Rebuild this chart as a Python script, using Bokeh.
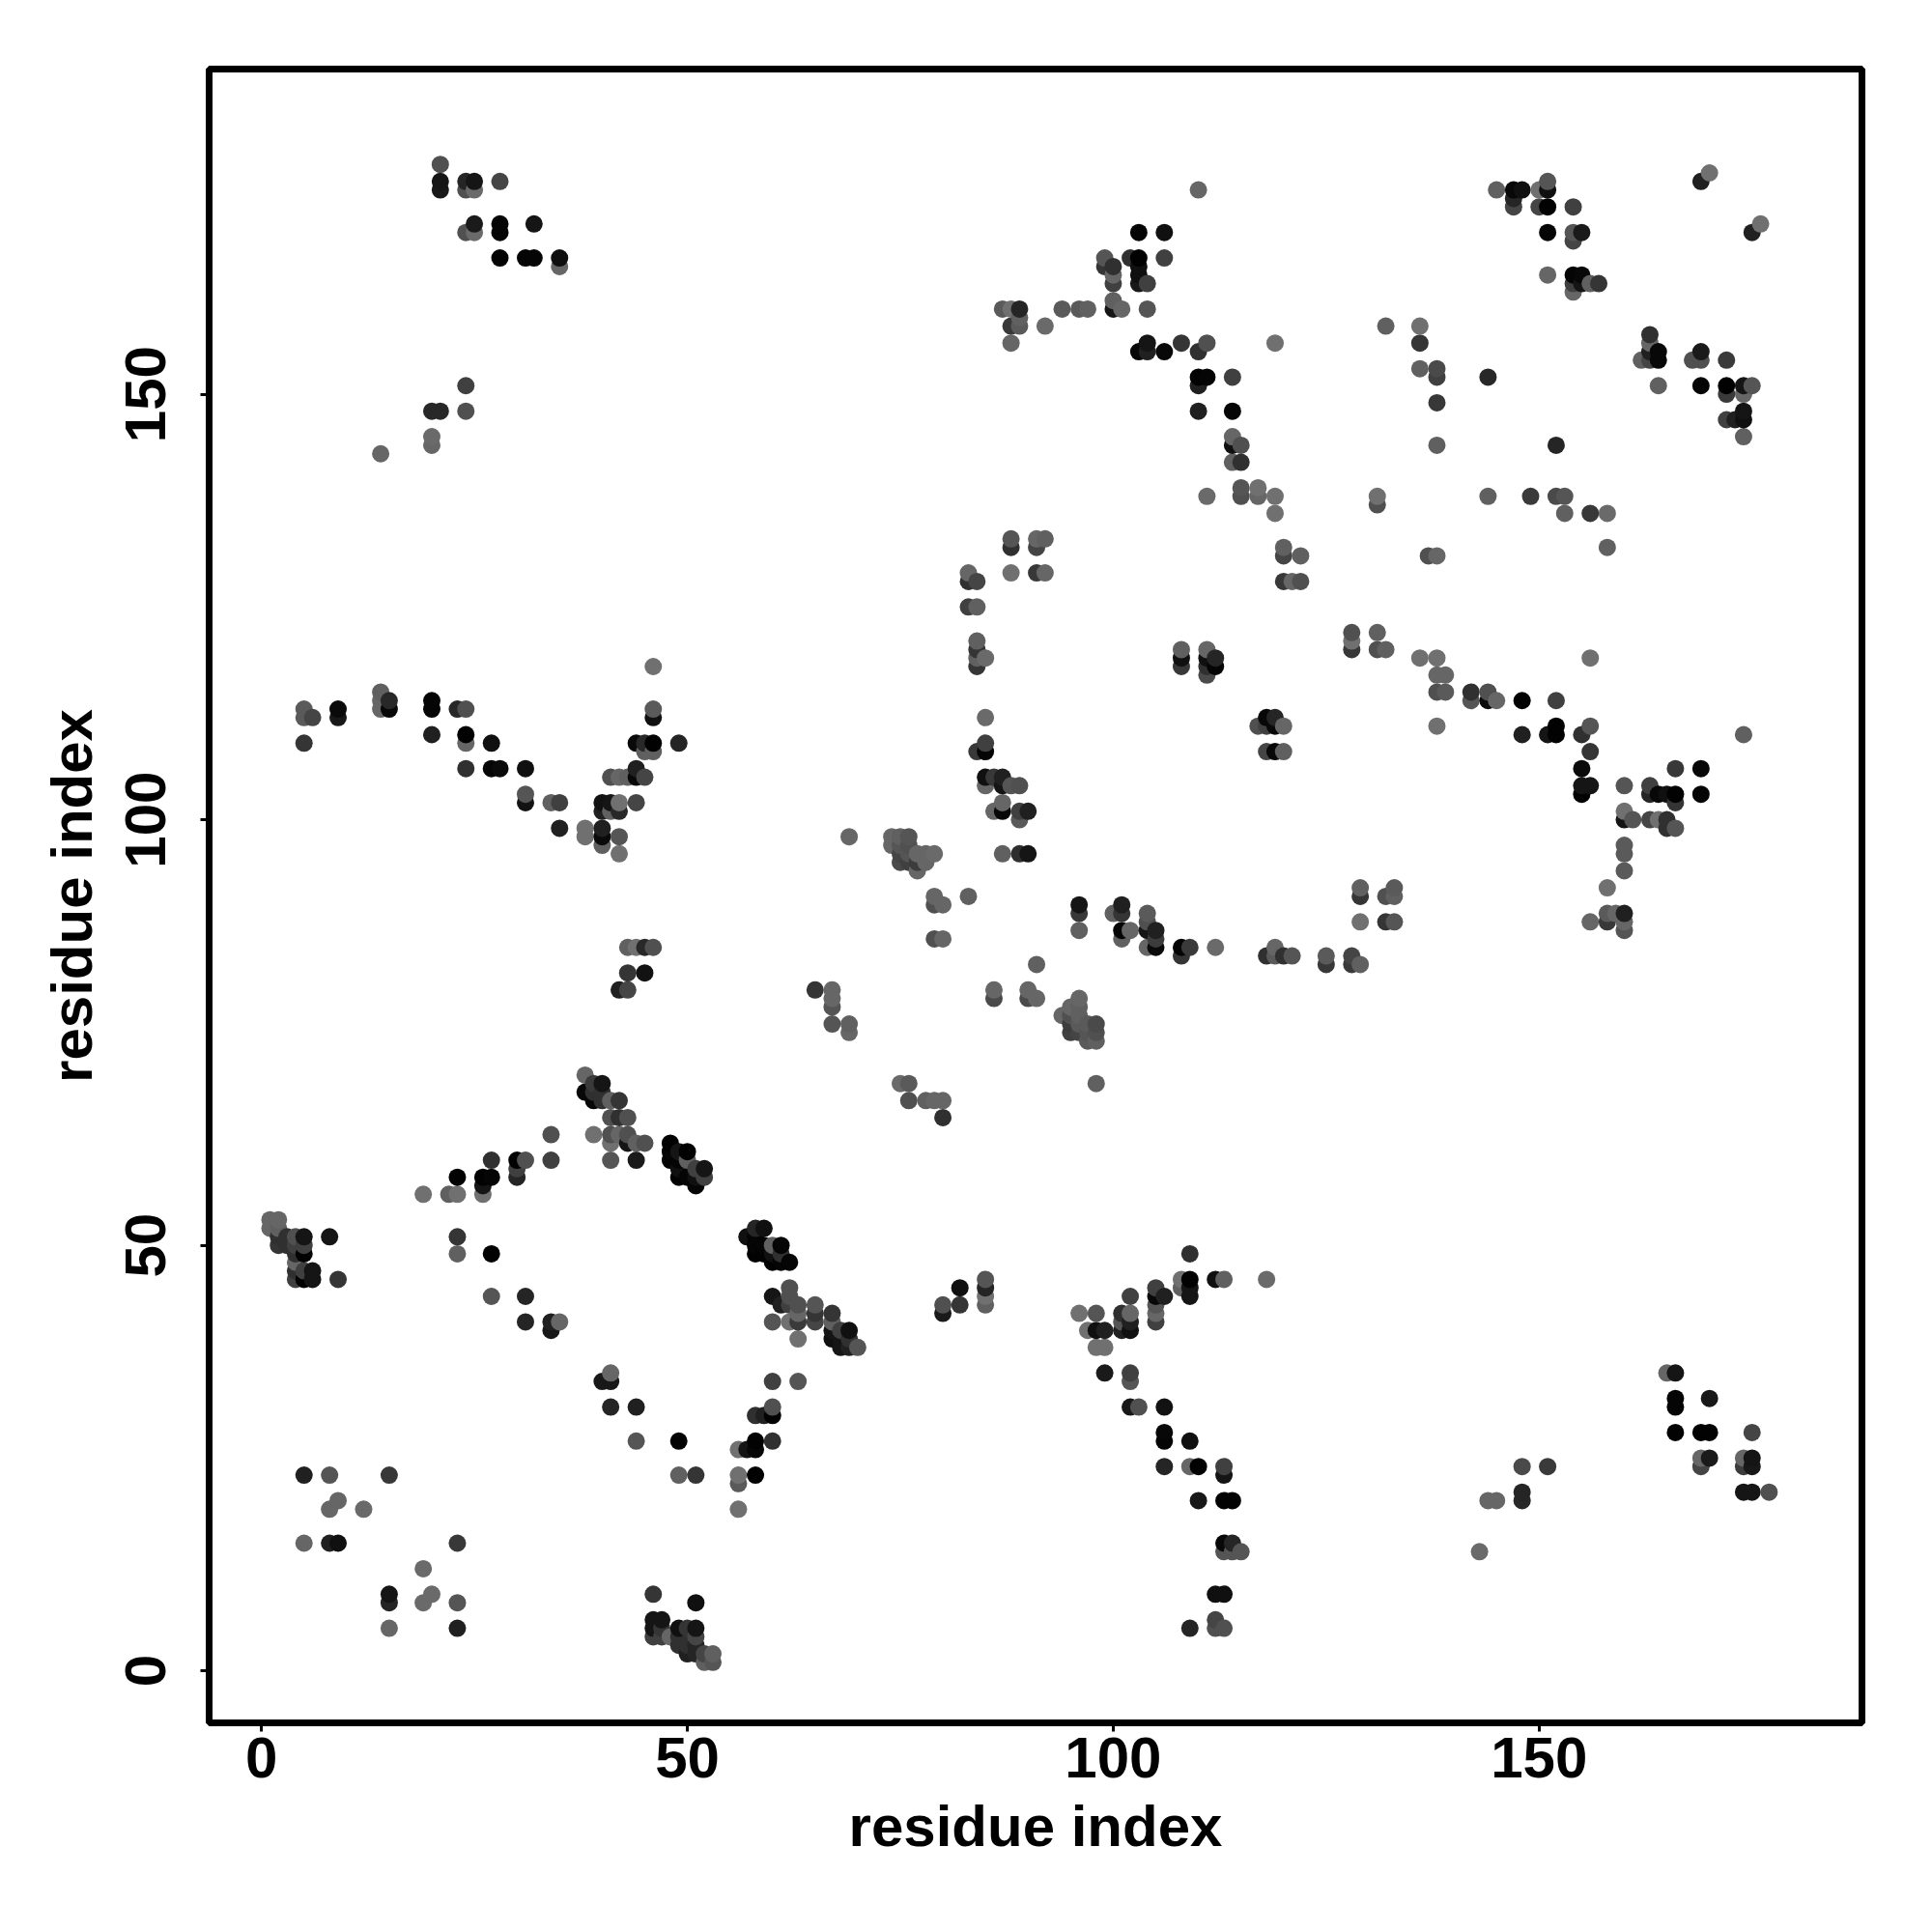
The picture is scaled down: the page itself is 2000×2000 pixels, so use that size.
from bokeh.plotting import figure
from bokeh.models import ColumnDataSource, Range1d, FixedTicker
from bokeh.embed import file_html
from bokeh.resources import INLINE

# (residue i, residue j, grey level of the dot)
lower_left = [
(1,53,0x66),(2,53,0x66),(1,52,0x66),(2,52,0x60),(2,51,0x30),(2,50,0x35),(3,51,0x30),(3,50,0x30),(4,51,0x50),(5,51,0x15),
(4,50,0x40),(5,50,0x40),(5,49,0x02),(4,49,0x30),(4,48,0x66),(4,47,0x30),(5,47,0x40),(6,47,0x15),(4,46,0x40),(5,46,0x02),
(6,46,0x15),(8,51,0x15),(9,46,0x35),(23,51,0x35),(23,49,0x60),(27,49,0x02),(27,44,0x55),(31,44,0x25),(31,41,0x25),
(34,41,0x20),(34,40,0x18),(35,41,0x66),(41,35,0x66),(40,34,0x18),(41,34,0x18),(41,31,0x25),(44,31,0x20),(44,27,0x55),
(49,27,0x02),(49,23,0x60),(51,23,0x35),(5,23,0x20),(8,23,0x55),(15,23,0x38),(9,20,0x66),(8,19,0x66),(12,19,0x6a),
(5,15,0x66),(8,15,0x20),(9,15,0x10),(23,15,0x38),(19,12,0x6a),(15,9,0x15),(15,8,0x25),(20,9,0x6a),(19,8,0x6a),(23,8,0x55),
(15,5,0x66),(23,5,0x20),
]
strand_mid = [
(38,70,0x66),(39,69,0x3a),(40,69,0x15),(38,68,0x08),(39,67,0x08),(40,67,0x30),(39,68,0x30),(40,68,0x30),(41,67,0x60),(42,67,0x35),
(41,65,0x50),(42,65,0x30),(43,65,0x50),(41,63,0x50),(39,63,0x70),(42,63,0x66),(43,63,0x50),(43,62,0x15),(41,62,0x70),(44,62,0x60),
(45,62,0x50),(41,60,0x55),(44,60,0x1a),(48,62,0x02),(48,61,0x05),(50,61,0x02),(48,60,0x05),(49,61,0x15),(49,60,0x05),(49,58,0x02),
(50,58,0x05),(50,60,0x60),(51,57,0x05),(51,59,0x40),(52,59,0x15),(52,58,0x40),(51,58,0x10),(49,59,0x10),
(23,58,0x02),(26,58,0x02),(27,58,0x05),(26,57,0x15),(26,56,0x70),(27,60,0x30),(30,60,0x02),(31,60,0x50),(30,59,0x40),(30,58,0x25),
(34,63,0x50),(34,60,0x40),(19,56,0x70),(22,56,0x60),(23,56,0x70),
]
strand_down = [
(57,51,0x10),(58,52,0x25),(59,52,0x10),(58,51,0x05),(58,50,0x05),(58,49,0x02),(59,49,0x02),(59,50,0x05),(60,50,0x60),(61,50,0x05),
(61,49,0x30),(60,48,0x02),(61,48,0x05),(62,48,0x05),(60,49,0x10),
(60,44,0x15),(62,45,0x50),(62,44,0x50),(61,43,0x20),(62,43,0x40),(63,43,0x50),(65,43,0x55),(63,42,0x66),(65,42,0x35),(67,42,0x35),
(60,41,0x55),(62,41,0x70),(63,41,0x3a),(65,41,0x45),(63,39,0x70),(67,41,0x60),(67,40,0x15),(68,40,0x40),(69,40,0x10),(67,39,0x10),
(68,39,0x15),(69,39,0x30),(68,38,0x15),(69,38,0x20),(70,38,0x55),(60,34,0x40),(63,34,0x55),(60,31,0x50),(60,30,0x02),(58,30,0x30),
(59,30,0x20),(58,27,0x02),(60,27,0x30),(58,26,0x08),(57,26,0x15),(56,26,0x70),(56,23,0x70),(56,22,0x5a),(58,23,0x02),(56,19,0x70),
(46,9,0x35),(51,8,0x10),(46,6,0x15),(47,6,0x15),(46,5,0x15),(46,4,0x40),(47,5,0x35),(47,4,0x40),(48,4,0x66),(49,5,0x10),(50,5,0x35),
(51,5,0x15),(51,4,0x45),(49,4,0x30),(49,3,0x30),(50,3,0x30),(51,3,0x25),(50,2,0x20),(51,2,0x25),(52,2,0x45),(53,2,0x60),(52,1,0x60),(53,1,0x55),
]
lower_mid = [
(82,45,0x10),(82,43,0x35),(80,43,0x50),(80,42,0x1a),(85,46,0x55),(85,45,0x25),(85,44,0x70),(85,43,0x60),
(96,42,0x70),(98,42,0x55),(97,40,0x70),(98,40,0x10),(99,40,0x20),(98,38,0x70),(99,38,0x70),
(101,42,0x30),(102,44,0x40),(102,42,0x66),(101,41,0x55),(102,41,0x20),(102,40,0x10),(101,40,0x20),(105,45,0x40),(105,44,0x08),
(106,44,0x20),(105,43,0x55),(105,42,0x66),(105,41,0x40),(108,46,0x70),(108,45,0x60),(109,46,0x02),(109,45,0x15),(109,44,0x15),
(109,49,0x30),(112,46,0x10),(113,46,0x60),(118,46,0x6a),
(99,35,0x1a),(102,35,0x40),(102,34,0x55),(102,31,0x18),(103,31,0x50),(106,31,0x12),(106,28,0x08),(106,27,0x05),(109,27,0x10),
(106,24,0x25),(109,24,0x66),(110,24,0x02),(113,24,0x40),(113,23,0x15),(110,20,0x18),(113,20,0x02),(114,20,0x02),
(113,15,0x08),(114,15,0x25),(113,14,0x55),(114,14,0x55),(115,14,0x55),(112,9,0x10),(113,9,0x10),(112,6,0x45),(109,5,0x25),(112,5,0x50),(113,5,0x50),
]
lower_right = [
(165,35,0x66),(166,35,0x15),(166,32,0x05),(166,31,0x05),(170,32,0x18),(166,28,0x02),(169,28,0x02),(170,28,0x02),(175,28,0x45),
(169,25,0x66),(170,25,0x1a),(169,24,0x45),(174,25,0x66),(175,25,0x15),(174,24,0x3c),(175,24,0x18),(174,21,0x15),(175,21,0x15),(177,21,0x50),
(148,24,0x4a),(151,24,0x3a),(148,21,0x25),(148,20,0x28),(144,20,0x66),(145,20,0x66),(143,14,0x6a),
]
upper_left_band = [
(5,113,0x5a),(5,112,0x5a),(6,112,0x45),(9,113,0x0a),(9,112,0x18),(5,109,0x35),(14,115,0x60),(14,114,0x66),(14,113,0x66),(15,114,0x28),
(15,113,0x08),(20,114,0x05),(20,113,0x05),(20,110,0x20),(23,113,0x28),(24,113,0x50),(24,110,0x02),(24,109,0x66),(27,109,0x10),
(24,106,0x30),(27,106,0x05),(28,106,0x0a),(31,106,0x10),(31,103,0x55),(31,102,0x12),(34,102,0x60),(35,102,0x40),(35,99,0x20),
(38,99,0x70),(38,98,0x70),(40,102,0x12),(41,102,0x15),(42,102,0x70),(44,102,0x45),(40,101,0x20),(41,101,0x60),(42,101,0x28),
(40,99,0x20),(40,98,0x0a),(40,97,0x60),(42,98,0x55),(42,96,0x70),(41,105,0x50),(42,105,0x66),(43,105,0x60),(44,106,0x20),(44,105,0x08),
(45,105,0x45),(44,109,0x0a),(45,109,0x28),(46,109,0x02),(49,109,0x25),(45,108,0x60),(46,108,0x60),(46,118,0x70),(46,113,0x5a),(46,112,0x10),
(43,85,0x60),(44,85,0x70),(45,85,0x28),(46,85,0x50),(43,82,0x35),(45,82,0x12),(42,80,0x20),(43,80,0x45),
]
top_left = [
(21,177,0x50),(21,175,0x15),(21,174,0x18),(24,175,0x25),(24,174,0x50),(25,175,0x15),(25,174,0x6a),(28,175,0x45),(25,170,0x1a),(24,169,0x50),
(25,169,0x6a),(28,170,0x05),(28,169,0x05),(32,170,0x15),(28,166,0x03),(31,166,0x05),(32,166,0x05),(35,166,0x0f),(35,165,0x66),
(24,151,0x40),(20,148,0x28),(21,148,0x28),(24,148,0x50),(20,145,0x6a),(20,144,0x66),(14,143,0x66),
]
top_mid = [
(110,174,0x66),(103,169,0x05),(106,169,0x10),(99,166,0x55),(99,165,0x35),(102,166,0x30),(103,166,0x02),(106,166,0x40),(100,165,0x30),
(100,164,0x66),(100,163,0x40),(103,165,0x10),(103,164,0x10),(103,163,0x18),(104,163,0x40),(100,161,0x60),(100,160,0x15),(101,160,0x66),
(104,160,0x55),(87,160,0x5a),(88,160,0x70),(89,160,0x25),(89,159,0x60),(88,158,0x38),(89,158,0x5a),(88,156,0x66),(92,158,0x6a),
(94,160,0x5a),(96,160,0x5a),(97,160,0x60),(104,156,0x15),(103,155,0x08),(104,155,0x20),(106,155,0x08),(108,156,0x35),(110,155,0x30),
(111,156,0x50),(119,156,0x70),(110,152,0x02),(111,152,0x05),(110,151,0x20),(114,152,0x40),(110,148,0x20),(114,148,0x05),
(114,145,0x66),(114,144,0x10),(115,144,0x50),(114,142,0x60),(115,142,0x30),(111,138,0x6a),(115,139,0x55),(115,138,0x50),(117,139,0x70),
(117,138,0x66),(119,138,0x70),(119,136,0x70),(131,138,0x70),(131,137,0x50),(132,158,0x60),(136,158,0x70),(136,156,0x35),(136,153,0x60),
(138,153,0x4a),(138,152,0x40),(138,149,0x38),(138,144,0x60),
]
top_right = [
(145,174,0x60),(147,174,0x08),(148,174,0x10),(147,173,0x25),(147,172,0x45),(150,174,0x70),(151,175,0x55),(151,174,0x10),(150,172,0x45),
(151,172,0x02),(154,172,0x40),(151,169,0x05),(154,169,0x55),(155,169,0x1a),(154,168,0x45),(151,164,0x66),(154,164,0x05),(155,164,0x08),
(154,163,0x40),(155,163,0x15),(156,163,0x60),(157,163,0x35),(154,162,0x66),(169,175,0x20),(170,176,0x70),(175,169,0x20),(176,170,0x70),
(163,157,0x30),(163,156,0x66),(164,155,0x08),(163,155,0x20),(164,154,0x08),(162,154,0x60),(163,154,0x45),(164,151,0x60),(169,155,0x1a),
(168,154,0x50),(169,154,0x50),(172,154,0x3a),(169,151,0x05),(172,151,0x02),(174,151,0x15),(175,151,0x55),(172,150,0x3a),(174,150,0x66),
(172,147,0x40),(173,147,0x20),(174,148,0x15),(174,147,0x10),(174,145,0x60),(144,152,0x28),(152,144,0x25),(144,138,0x60),(149,138,0x3a),
(152,138,0x4a),(153,138,0x55),(153,136,0x60),(156,136,0x38),(158,136,0x6a),(158,132,0x60),
]
right_band = [
(128,122,0x50),(128,121,0x70),(128,120,0x38),(131,122,0x60),(131,120,0x50),(132,120,0x60),(136,119,0x70),(138,119,0x70),(138,117,0x66),
(139,117,0x66),(138,115,0x50),(139,115,0x5a),(142,115,0x30),(142,114,0x55),(144,115,0x50),(144,114,0x0a),(145,114,0x66),(148,114,0x02),
(152,114,0x40),(156,119,0x70),(138,111,0x70),(148,110,0x20),(151,110,0x15),(152,111,0x02),(152,110,0x02),(155,110,0x30),(156,111,0x55),
(156,108,0x35),(155,106,0x0a),(155,104,0x15),(156,104,0x15),(155,103,0x02),(160,104,0x55),(163,104,0x40),(163,103,0x25),(164,103,0x08),
(165,103,0x10),(166,103,0x02),(166,102,0x35),(166,106,0x38),(169,106,0x08),(169,103,0x05),(160,101,0x70),(160,100,0x15),(161,100,0x55),
(163,100,0x45),(164,100,0x70),(165,100,0x30),(165,99,0x30),(166,99,0x55),(160,97,0x5a),(160,96,0x5a),(160,94,0x5a),(158,92,0x70),
(156,88,0x66),(158,89,0x5a),(159,89,0x66),(160,89,0x20),(158,88,0x38),(160,88,0x66),(160,87,0x55),(174,110,0x60),
(129,92,0x60),(129,91,0x35),(129,88,0x70),(132,91,0x50),(133,92,0x5a),(133,91,0x60),(132,88,0x35),(133,88,0x55),
(118,84,0x30),(119,85,0x66),(119,84,0x5a),(120,84,0x30),(121,84,0x55),(125,84,0x5a),(125,83,0x38),(128,84,0x45),(128,83,0x3a),(129,83,0x60),
(118,112,0x08),(119,112,0x25),(118,111,0x40),(119,111,0x08),(120,111,0x66),(117,111,0x50),(118,108,0x45),(119,108,0x08),(120,108,0x60),
]
centre_band = [
(88,133,0x55),(88,132,0x30),(91,133,0x66),(92,133,0x60),(91,132,0x45),(88,129,0x70),(91,129,0x38),(92,129,0x66),(83,129,0x66),(84,128,0x45),
(83,128,0x30),(84,125,0x60),(83,125,0x40),(84,121,0x60),(84,120,0x35),(84,119,0x60),(84,118,0x35),(85,119,0x6a),(85,112,0x6a),(85,109,0x40),
(84,108,0x38),(85,108,0x05),(85,105,0x10),(85,104,0x66),(86,105,0x38),(87,105,0x20),(87,104,0x15),(88,104,0x55),(89,104,0x50),(87,102,0x66),
(86,101,0x66),(87,101,0x08),(89,101,0x40),(90,101,0x20),(89,100,0x5a),(87,96,0x60),(89,96,0x2e),(90,96,0x15),
(108,120,0x60),(108,119,0x10),(108,118,0x38),(111,120,0x66),(111,119,0x10),(112,119,0x25),(111,118,0x30),(112,118,0x05),(111,117,0x4a),
(120,132,0x60),(120,131,0x45),(122,131,0x60),(120,128,0x38),(121,128,0x66),(122,128,0x50),(137,131,0x50),(138,131,0x66),
]
centre_blob = [
(69,98,0x66),(74,98,0x66),(75,98,0x60),(76,98,0x55),(74,97,0x66),(75,97,0x55),(76,97,0x50),(75,96,0x45),(76,96,0x55),(77,96,0x66),(78,96,0x66),
(79,96,0x6a),(75,95,0x4a),(76,95,0x40),(77,95,0x3c),(78,95,0x66),(77,94,0x66),(79,91,0x66),(79,90,0x50),(80,90,0x66),(83,91,0x60),(79,86,0x50),
(80,86,0x66),(96,90,0x15),(96,89,0x38),(96,87,0x60),(100,89,0x60),(101,90,0x20),(101,89,0x35),(101,87,0x05),(102,87,0x66),(101,86,0x60),
(104,89,0x5a),(104,88,0x50),(104,87,0x15),(105,87,0x20),(105,86,0x3c),(104,85,0x66),(105,85,0x0a),(108,85,0x05),(109,85,0x3a),(108,84,0x35),
(112,85,0x6a),(91,83,0x60),(65,80,0x35),(67,80,0x66),(67,79,0x66),(67,78,0x55),(67,76,0x55),(69,76,0x60),(69,75,0x66),(86,80,0x66),(86,79,0x4a),
(90,80,0x66),(90,79,0x4a),(91,79,0x66),(96,79,0x66),(95,78,0x66),(96,78,0x60),(94,77,0x66),(95,77,0x50),(96,77,0x60),(95,76,0x3c),(96,76,0x5a),
(97,76,0x5a),(98,76,0x4a),(95,75,0x40),(96,75,0x45),(97,75,0x55),(98,75,0x50),(97,74,0x5a),(98,74,0x60),(98,69,0x60),(75,69,0x6a),(76,69,0x5a),
(76,67,0x50),(78,67,0x60),(79,67,0x66),(80,67,0x66),(80,65,0x30),
]
x_ticks = [0, 50, 100, 150]
y_ticks = [0, 50, 100, 150]
x_title = "residue index"
y_title = "residue index"

all_points = sorted(lower_left + strand_mid + strand_down + lower_mid + lower_right + upper_left_band
                    + top_left + top_mid + top_right + right_band + centre_band + centre_blob,
                    key=lambda t: (t[0], t[1]))
source = ColumnDataSource(dict(
    i=[t[0] for t in all_points],
    j=[t[1] for t in all_points],
    c=["#%02x%02x%02x" % (t[2], t[2], t[2]) for t in all_points],
))

W = 1992
p = figure(width=W, height=W, output_backend="svg", toolbar_location=None,
           x_range=Range1d(-6.14, 187.9), y_range=Range1d(-6.11, 188.2),
           min_border_left=216, min_border_right=W - 1927, min_border_top=71, min_border_bottom=W - 1783,
           background_fill_color="white", border_fill_color="white")
p.grid.visible = False
p.outline_line_color = "black"
p.outline_line_width = 7
p.scatter("i", "j", source=source, size=18, fill_color="c", line_color=None)

for ax, ticks, title in ((p.xaxis[0], x_ticks, x_title), (p.yaxis[0], y_ticks, y_title)):
    ax.ticker = FixedTicker(ticks=ticks)
    ax.axis_line_color = None
    ax.major_tick_line_color = "black"
    ax.major_tick_line_width = 3
    ax.major_tick_in = 0
    ax.major_tick_out = 9
    ax.minor_tick_line_color = None
    ax.major_label_text_font = "Liberation Sans"
    ax.major_label_text_font_style = "bold"
    ax.major_label_text_font_size = "60px"
    ax.major_label_text_color = "black"
    ax.axis_label = title
    ax.axis_label_text_font = "Liberation Sans"
    ax.axis_label_text_font_style = "bold"
    ax.axis_label_text_font_size = "60px"
    ax.axis_label_text_color = "black"
p.xaxis[0].major_label_standoff = 6
p.xaxis[0].axis_label_standoff = 14
p.yaxis[0].major_label_orientation = "parallel"
p.yaxis[0].major_label_standoff = 36
p.yaxis[0].axis_label_standoff = 20

open("out.html", "w").write(file_html(p, INLINE))
